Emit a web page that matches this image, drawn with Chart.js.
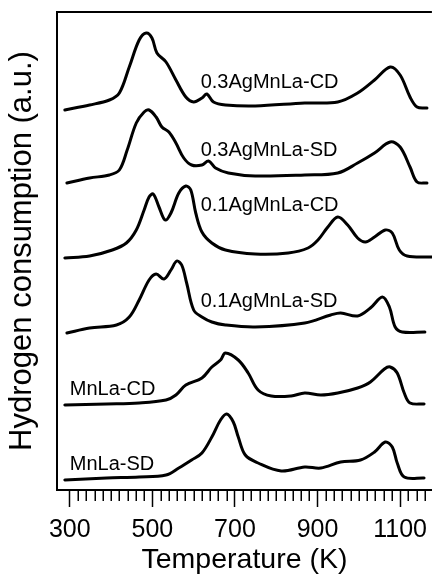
<!DOCTYPE html>
<html>
<head>
<meta charset="utf-8">
<script src="https://cdn.jsdelivr.net/npm/chart.js@4.4.1/dist/chart.umd.min.js"></script>
<style>
  html, body { margin: 0; padding: 0; background: #fff; }
  #wrap { width: 435px; height: 576px; }
</style>
</head>
<body>
<div id="wrap"><canvas id="c" width="435" height="576"></canvas></div>
<script>
// ---------- data (temperature in K, signal in a.u. above each curve's baseline) ----------
const t_03CD = [288, 348, 396, 420, 444, 468, 485, 499, 511, 533, 557, 581, 600, 620, 632, 648, 677, 749, 869, 949, 997, 1038, 1076, 1100, 1124, 1141, 1165];
const s_03CD = [0, 5, 10, 17, 43, 70, 77, 72, 57, 48, 30, 13, 8, 12, 16, 8, 5, 4, 7, 8, 17, 30, 43, 35, 13, 3, 2];

const t_03SD = [293, 348, 396, 420, 439, 461, 480, 492, 509, 523, 540, 557, 576, 595, 620, 636, 653, 684, 749, 869, 949, 997, 1038, 1076, 1100, 1124, 1141, 1165];
const s_03SD = [0, 5, 8, 13, 33, 60, 71, 73, 66, 56, 51, 40, 25, 18, 18, 22, 15, 10, 7, 8, 10, 20, 30, 41, 36, 16, 1, 0];

const t_01CD = [288, 348, 403, 437, 461, 480, 492, 502, 516, 531, 545, 564, 581, 593, 605, 620, 644, 677, 749, 829, 877, 901, 925, 949, 973, 997, 1016, 1038, 1064, 1081, 1098, 1117, 1177];
const s_01CD = [0, 2, 8, 15, 28, 48, 61, 64, 51, 38, 45, 65, 72, 68, 45, 26, 15, 8, 4, 5, 10, 18, 31, 41, 33, 20, 16, 21, 28, 25, 8, 2, 1];

const t_01SD = [293, 348, 413, 444, 468, 492, 509, 528, 545, 559, 571, 583, 600, 620, 644, 677, 749, 869, 932, 956, 997, 1028, 1057, 1074, 1088, 1105, 1160];
const s_01SD = [0, 5, 8, 16, 33, 53, 59, 54, 63, 72, 68, 50, 23, 16, 11, 8, 6, 10, 18, 20, 17, 25, 36, 26, 6, 1, 1];

const t_MnCD = [288, 389, 468, 533, 557, 581, 620, 644, 665, 677, 708, 732, 756, 788, 836, 869, 908, 949, 997, 1028, 1062, 1076, 1093, 1110, 1124, 1158];
const s_MnCD = [0, 1, 2, 5, 10, 20, 27, 38, 45, 52, 45, 32, 15, 9, 9, 12, 10, 12, 17, 23, 36, 38, 32, 12, 2, 1];

const t_MnSD = [288, 389, 468, 533, 564, 595, 620, 644, 665, 680, 696, 708, 725, 756, 812, 869, 908, 956, 1004, 1038, 1064, 1081, 1093, 1110, 1158];
const s_MnSD = [0, 2, 3, 5, 12, 20, 27, 43, 60, 66, 58, 43, 25, 17, 9, 13, 12, 18, 20, 28, 38, 33, 17, 3, 2];

const seriesNames = ['0.3AgMnLa-CD', '0.3AgMnLa-SD', '0.1AgMnLa-CD', '0.1AgMnLa-SD', 'MnLa-CD', 'MnLa-SD'];
const seriesOffsets = [380, 307, 232, 157, 85, 10];

// curve labels: text, temperature (K), height (a.u.)
const labelTexts = ['0.3AgMnLa-CD', '0.3AgMnLa-SD', '0.1AgMnLa-CD', '0.1AgMnLa-SD', 'MnLa-CD', 'MnLa-SD'];
const labelTemps = [617, 617, 617, 617, 300, 300];
const labelHeights = [408, 340, 285, 189, 101, 26];

const majorTicks = [300, 500, 700, 900, 1100];
const minorTicks = [320, 340, 360, 380, 400, 420, 440, 460, 480, 520, 540, 560, 580, 600, 620, 640, 660, 680,
  720, 740, 760, 780, 800, 820, 840, 860, 880, 920, 940, 960, 980, 1000, 1020, 1040, 1060, 1080,
  1120, 1140, 1160];

const xMin = 269, xMax = 1177, yMin = 0, yMax = 478;

// ---------- build ----------
const temps = [t_03CD, t_03SD, t_01CD, t_01SD, t_MnCD, t_MnSD];
const sigs = [s_03CD, s_03SD, s_01CD, s_01SD, s_MnCD, s_MnSD];
const FONT = "'Liberation Sans', Arial, Helvetica, sans-serif";

const datasets = seriesNames.map((name, i) => ({
  label: name,
  data: temps[i].map((t, j) => ({ x: t, y: sigs[i][j] + seriesOffsets[i] })),
  borderColor: '#000',
  borderWidth: 3,
  pointRadius: 0,
  fill: false,
  tension: 0.35,
  borderJoinStyle: 'round',
  borderCapStyle: 'round'
}));

const framePlugin = {
  id: 'frame',
  afterDraw(chart) {
    const { ctx, chartArea } = chart;
    const xs = chart.scales.x, ys = chart.scales.y;
    ctx.save();
    // top border
    ctx.strokeStyle = '#000';
    ctx.lineWidth = 2;
    ctx.beginPath();
    ctx.moveTo(chartArea.left - 1, chartArea.top);
    ctx.lineTo(chartArea.right, chartArea.top);
    ctx.stroke();
    // minor ticks
    ctx.lineWidth = 1.5;
    ctx.beginPath();
    minorTicks.forEach(v => {
      const px = Math.round(xs.getPixelForValue(v)) + 0.25;
      ctx.moveTo(px, chartArea.bottom);
      ctx.lineTo(px, chartArea.bottom + 11);
    });
    ctx.stroke();
    // curve labels
    ctx.fillStyle = '#000';
    ctx.font = '20px ' + FONT;
    ctx.textAlign = 'left';
    ctx.textBaseline = 'middle';
    labelTexts.forEach((txt, i) => {
      ctx.fillText(txt, xs.getPixelForValue(labelTemps[i]), ys.getPixelForValue(labelHeights[i]));
    });
    ctx.restore();
  }
};

new Chart(document.getElementById('c'), {
  type: 'line',
  data: { datasets },
  plugins: [framePlugin],
  options: {
    responsive: false,
    animation: false,
    devicePixelRatio: 1,
    layout: { padding: { top: 12, right: 0, bottom: 0, left: 0 } },
    plugins: { legend: { display: false }, tooltip: { enabled: false } },
    scales: {
      x: {
        type: 'linear',
        min: xMin, max: xMax,
        afterBuildTicks: (scale) => { scale.ticks = majorTicks.map(v => ({ value: v })); },
        afterFit: (scale) => { scale.height = 86; },
        ticks: {
          color: '#000',
          font: { family: FONT, size: 25 },
          padding: 8,
          maxRotation: 0,
          autoSkip: false,
          callback: (v) => String(v)
        },
        grid: {
          display: true,
          drawOnChartArea: false,
          drawTicks: true,
          tickLength: 17,
          tickColor: '#000',
          tickWidth: 1.5
        },
        border: { display: true, color: '#000', width: 2 },
        title: {
          display: true,
          text: 'Temperature (K)',
          color: '#000',
          font: { family: FONT, size: 28.5, lineHeight: 1.1 },
          padding: { top: 0, bottom: 0 }
        }
      },
      y: {
        type: 'linear',
        min: yMin, max: yMax,
        afterFit: (scale) => { scale.width = 57; },
        ticks: { display: false },
        grid: { display: false, drawTicks: false },
        border: { display: true, color: '#000', width: 2 },
        title: {
          display: true,
          text: 'Hydrogen consumption (a.u.)',
          color: '#000',
          font: { family: FONT, size: 31, lineHeight: 1.2 },
          padding: { top: 4, bottom: 0 }
        }
      }
    }
  }
});
</script>
</body>
</html>
